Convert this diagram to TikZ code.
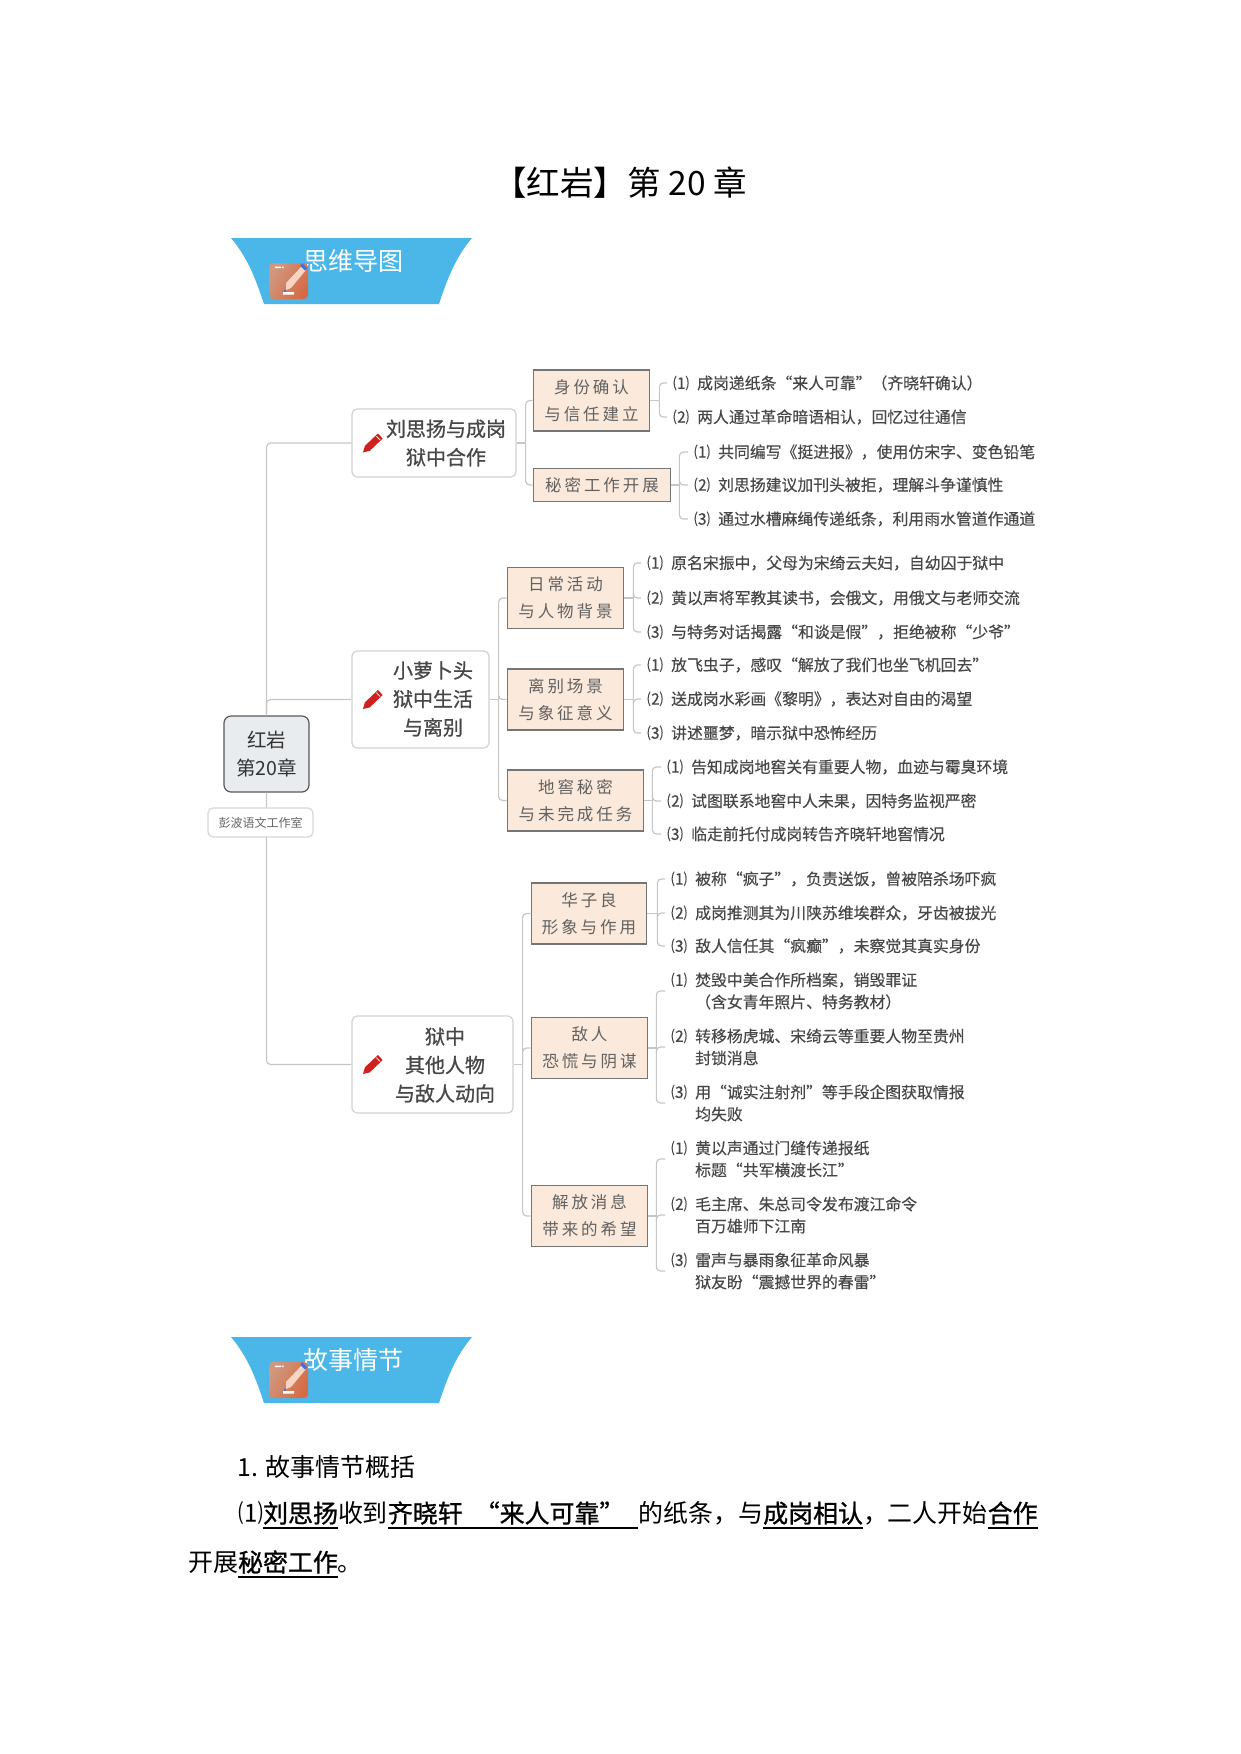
\documentclass[tikz,border=0pt]{standalone}
\usepackage{fontspec}
\setmainfont{Noto Sans CJK SC}
\newfontfamily\boxfont[LetterSpace=18]{Noto Sans CJK SC}
\newfontfamily\itemfont[FakeBold=0.35]{Noto Sans CJK SC}
\newfontfamily\topicfont[FakeBold=0.8]{Noto Sans CJK SC}
\newfontfamily\markfont[FakeBold=1]{Noto Sans CJK SC}
\definecolor{bannerblue}{HTML}{4BB6E8}
\definecolor{boxfill}{HTML}{FBE9DB}
\definecolor{boxline}{HTML}{757575}
\definecolor{linkgray}{HTML}{C6C6C6}
\definecolor{rootfill}{HTML}{E8ECEF}
\definecolor{penred}{HTML}{D0211F}
\definecolor{iconlight}{HTML}{D0987F}
\definecolor{icondark}{HTML}{D56B46}
\definecolor{penpale}{HTML}{F6D5C2}
\definecolor{penblue}{HTML}{3F6CE8}
\newcommand\mnum[1]{\makebox[24pt][l]{#1}}
\newcommand\mind{\hspace*{24pt}}
\newcommand\mund[1]{\setbox0\hbox{\markfont #1}\rlap{\rule[-6pt]{\wd0}{1.2pt}}\box0}
\begin{document}
\begin{tikzpicture}[x=1pt,y=-1pt,
    link/.style={draw=linkgray,line width=1.2pt},
    topicbox/.style={draw=linkgray!80,fill=white,line width=1.2pt,rounded corners=5pt,inner sep=0pt},
    topictext/.style={align=center,font=\fontsize{20}{28.5}\topicfont,text=black!72},
    subbox/.style={draw=boxline,fill=boxfill,line width=1.2pt,inner sep=0pt,minimum height=61pt,align=center,font=\fontsize{16.5}{27}\boxfont,text=black!62},
    item/.style={anchor=west,inner xsep=6pt,inner ysep=0pt,align=left,font=\fontsize{15.85}{22}\itemfont,text=black!72},
    body/.style={anchor=west,inner sep=0pt,font=\fontsize{24.95}{30}\selectfont}]
    \useasboundingbox (0,0) rectangle (1241,1754);
    \node[font=\fontsize{33.5}{38}\selectfont] (title) at (620,183) {【红岩】第 20 章};
    % hai bang tieu de
    \foreach \bname/\dy/\btext in {bannerA/0/思维导图,bannerB/1099/故事情节}{
        \begin{scope}[shift={(0,\dy)}]
            \fill[bannerblue] (231,238) -- (472,238) .. controls (455,258) and (447,280) .. (439,304) -- (264,304) .. controls (256,280) and (248,258) .. (231,238) -- cycle;
            \node[text=white,font=\fontsize{25}{30}\selectfont] (\bname) at (353,261) {\btext};
            \shade[rounded corners=4pt,left color=iconlight,right color=icondark,shading angle=60] (269,263) rectangle (308,299);
            \fill[white] (275,266.5) rectangle (281,268) (282,266.5) rectangle (283.5,268) (283,292) rectangle (294,294.5);
            \fill[penpale] (302,266) -- (306,270) -- (291,288) -- (286,290) -- (286,283) -- cycle;
            \fill[penblue] (302,263) -- (307,268) -- (305,270.5) -- (300.5,266) -- cycle (285,289) -- (286,291.5) -- (283.5,292) -- cycle;
        \end{scope}
    }
    % ba nhanh chinh
    \node[draw=black!65,fill=rootfill,line width=1.2pt,rounded corners=7pt,minimum width=85pt,minimum height=76pt,inner sep=0pt,align=center,text=black!80,font=\fontsize{19.5}{28}\selectfont] (root) at (266.5,754) {红岩\\第20章};
    \node[topicbox,minimum width=164pt,minimum height=68pt] (liu) at (434,443) {};
    \node[topicbox,minimum width=137pt,minimum height=97pt] (luobo) at (420.5,699.5) {};
    \node[topicbox,minimum width=161pt,minimum height=97pt] (yu) at (432.5,1064.5) {};
    \node[topictext] (liutext) at (446,443) {刘思扬与成岗\\狱中合作};
    \node[topictext] (luobotext) at (433,699) {小萝卜头\\狱中生活\\与离别};
    \node[topictext] (yutext) at (445,1065) {狱中\\其他人物\\与敌人动向};
    \foreach \py in {443,699.5,1064.5}{
        \begin{scope}[shift={(372.5,\py)}]
            \fill[penred] (-9.5,9.5) -- (-7.6,2.9) -- (5.4,-9.5) -- (10.2,-4.5) -- (-2.8,7.9) -- cycle;
            \draw[white,line width=.6pt] (3.8,-6.9) -- (7.6,-3);
        \end{scope}
    }
    % hop mau
    \node[subbox,minimum width=116.5pt] (idbox) at (591.5,400.5) {身份确认\\与信任建立};
    \node[subbox,minimum width=137.5pt,minimum height=33.5pt] (sebox) at (602,485) {秘密工作开展};
    \node[subbox,minimum width=116.5pt] (dabox) at (565.5,598) {日常活动\\与人物背景};
    \node[subbox,minimum width=116.5pt] (libox) at (565.5,699.5) {离别场景\\与象征意义};
    \node[subbox,minimum width=136.5pt] (dibox) at (575.5,800.5) {地窖秘密\\与未完成任务};
    \node[subbox,minimum width=115.5pt] (hubox) at (589,913.5) {华子良\\形象与作用};
    \node[subbox,minimum width=116.5pt] (enbox) at (589.5,1048) {敌人\\恐慌与阴谋};
    \node[subbox,minimum width=116.5pt] (jobox) at (589.5,1216) {解放消息\\带来的希望};
    % cac muc
    \foreach \mname/\mx/\my/\mtext in {
        idA/667/383/{\mnum{⑴}成岗递纸条“来人可靠”（齐晓轩确认）},
        idB/667/417/{\mnum{⑵}两人通过革命暗语相认，回忆过往通信},
        seA/688/452/{\mnum{⑴}共同编写《挺进报》，使用仿宋字、变色铅笔},
        seB/688/485/{\mnum{⑵}刘思扬建议加刊头被拒，理解斗争谨慎性},
        seC/688/519/{\mnum{⑶}通过水槽麻绳传递纸条，利用雨水管道作通道},
        daA/641/563/{\mnum{⑴}原名宋振中，父母为宋绮云夫妇，自幼囚于狱中},
        daB/641/598/{\mnum{⑵}黄以声将军教其读书，会俄文，用俄文与老师交流},
        daC/641/632/{\mnum{⑶}与特务对话揭露“和谈是假”，拒绝被称“少爷”},
        liA/641/665/{\mnum{⑴}放飞虫子，感叹“解放了我们也坐飞机回去”},
        liB/641/699/{\mnum{⑵}送成岗水彩画《黎明》，表达对自由的渴望},
        liC/641/733/{\mnum{⑶}讲述噩梦，暗示狱中恐怖经历},
        diA/661/767/{\mnum{⑴}告知成岗地窖关有重要人物，血迹与霉臭环境},
        diB/661/801/{\mnum{⑵}试图联系地窖中人未果，因特务监视严密},
        diC/661/834/{\mnum{⑶}临走前托付成岗转告齐晓轩地窖情况},
        huA/665/879/{\mnum{⑴}被称“疯子”，负责送饭，曾被陪杀场吓疯},
        huB/665/913/{\mnum{⑵}成岗推测其为川陕苏维埃群众，牙齿被拔光},
        huC/665/946/{\mnum{⑶}敌人信任其“疯癫”，未察觉其真实身份},
        enA/665/991/{\mnum{⑴}焚毁中美合作所档案，销毁罪证\\\mind（含女青年照片、特务教材）},
        enB/665/1047/{\mnum{⑵}转移杨虎城、宋绮云等重要人物至贵州\\\mind 封锁消息},
        enC/665/1103/{\mnum{⑶}用“诚实注射剂”等手段企图获取情报\\\mind 均失败},
        joA/665/1159/{\mnum{⑴}黄以声通过门缝传递报纸\\\mind 标题“共军横渡长江”},
        joB/665/1215/{\mnum{⑵}毛主席、朱总司令发布渡江命令\\\mind 百万雄师下江南},
        joC/665/1271/{\mnum{⑶}雷声与暴雨象征革命风暴\\\mind 狱友盼“震撼世界的春雷”}}
        \node[item] (\mname) at (\mx,\my) {\mtext};
    % duong noi
    \draw[link,rounded corners=4pt] (root.north) |- (liu.west);
    \draw[link,rounded corners=4pt] (root.north) |- (luobo.west);
    \draw[link,rounded corners=4pt] (root.south) |- (yu.west);
    \foreach \from/\gap/\kids in {liu/9/{idbox,sebox},luobo/9/{dabox,libox,dibox},yu/9/{hubox,enbox,jobox},
        idbox/9/{idA,idB},sebox/8/{seA,seB,seC},dabox/9/{daA,daB,daC},libox/9/{liA,liB,liC},dibox/8/{diA,diB,diC},
        hubox/10/{huA,huB,huC},enbox/8/{enA,enB,enC},jobox/8/{joA,joB,joC}}{
        \draw[link] (\from.east) -- ([xshift=\gap pt]\from.east);
        \foreach \to in \kids
            \draw[link,rounded corners=4pt] ([xshift=\gap pt]\from.east) |- (\to.west);
    }
    \node[topicbox,draw=linkgray!70,minimum width=105pt,minimum height=29pt,text=black!60,font=\fontsize{12}{14}\selectfont] (studio) at (260.5,822.5) {彭波语文工作室};
    % phan van ban
    \node[body] (plot) at (237,1467) {1. 故事情节概括};
    \node[body] (lineA) at (238,1515) {⑴\mund{刘思扬}收到\mund{齐晓轩\hspace{12pt}“来人可靠”\hspace{14pt}}的纸条，与\mund{成岗相认}，二人开始\mund{合作}};
    \node[body] (lineB) at (188,1564) {开展\mund{秘密工作}。};
\end{tikzpicture}
\end{document}
